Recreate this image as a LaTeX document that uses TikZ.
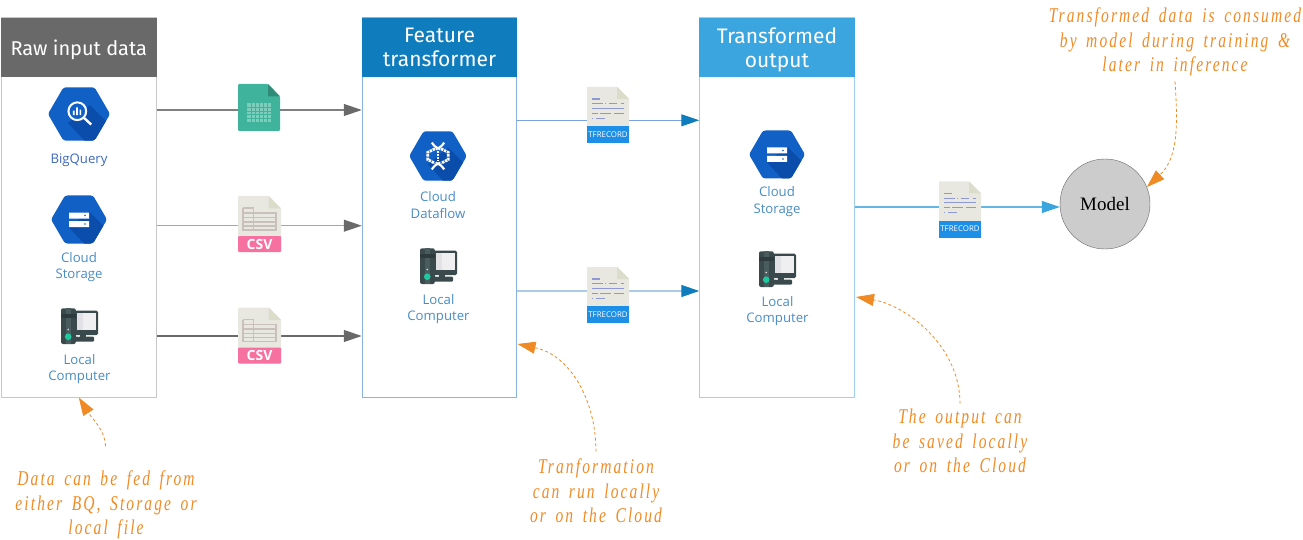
\documentclass[tikz,border=0pt]{standalone}
\usepackage{fontspec}
\setmainfont{Open Sans}
\newfontfamily\headfont{Fira Sans}
\newfontfamily\modelfont{Liberation Serif}
\newfontfamily\handfont[FakeStretch=.74,LetterSpace=10,WordSpace=1.6]{Liberation Serif}
\usetikzlibrary{arrows.meta}
\definecolor{rawgrey}{HTML}{696969}
\definecolor{rawline}{HTML}{C8C8C8}
\definecolor{featblue}{HTML}{0F7CBD}
\definecolor{featline}{HTML}{8AB4E0}
\definecolor{outblue}{HTML}{3BA5DF}
\definecolor{outline}{HTML}{A0D0F0}
\definecolor{hexblue}{HTML}{1160C6}
\definecolor{hexshade}{HTML}{0B4DAB}
\definecolor{notecol}{HTML}{F08A24}
\definecolor{paper}{HTML}{E9E8E0}
\definecolor{paperfold}{HTML}{DCDCCB}
\definecolor{towercol}{HTML}{3A4A4C}
\definecolor{towerband}{HTML}{4B5C5E}
\definecolor{screencol}{HTML}{E2E1E6}
\definecolor{ledcol}{HTML}{1FC9A0}
\definecolor{sheetcol}{HTML}{3FB39C}
\definecolor{sheetfold}{HTML}{2F8C78}
\definecolor{sheetgrid}{HTML}{7CCDBB}
\definecolor{csvpink}{HTML}{F670A0}
\definecolor{tablecol}{HTML}{C9C0BB}
\definecolor{tfband}{HTML}{1E8FE6}
\definecolor{tftext}{HTML}{8F98D6}
\definecolor{svcblue}{HTML}{4A8DC4}
\definecolor{bqblue}{HTML}{4169BE}
\tikzset{
  panel/.style={draw=#1, line width=1pt, fill=white, minimum width=154.5pt, minimum height=379pt, inner sep=0pt},
  header/.style={fill=#1, text=white, minimum width=155.5pt, minimum height=59pt, inner sep=0pt, text depth=0pt,
    font=\headfont\fontsize{20}{24}\selectfont, align=center},
  bighead/.style={header=#1, text depth=-2pt, font=\headfont\fontsize{21}{24}\selectfont},
  svclabel/.style={text=#1, align=center, inner sep=0pt, font=\fontsize{13.2}{16.5}\selectfont},
  note/.style={text=notecol, align=center, inner sep=0pt, font=\handfont\itshape\fontsize{21}{24.7}\selectfont},
  flow/.style={-{Triangle[length=18pt,width=12pt,color=#1]}},
  noteline/.style={draw=notecol, line width=.8pt, dash pattern=on 3pt off 2.5pt,
    -{Triangle[length=18pt,width=12pt,color=notecol,sep=0pt]}},
  hexicon/.pic={
    \def\hexpath{(-28,0) -- (-14,-24) -- (14,-24) -- (28,0) -- (14,24) -- (-14,24) -- cycle}
    \fill[hexblue, rounded corners=2.5pt] \hexpath;
    \begin{scope}
      \clip[rounded corners=2.5pt] \hexpath;
      \fill[hexshade] (-10,8) -- (10,-8) -- (40,22) -- (20,40) -- cycle;
    \end{scope}
  },
  bqicon/.pic={
    \pic {hexicon};
    \draw[white, line width=2pt, fill=hexblue] (-1.5,-2.5) circle (8pt);
    \draw[white, line width=2.4pt] (4.5,3.5) -- (11,9.5);
    \fill[white] (-5.5,-3) rectangle (-4,1) (-2.5,-6) rectangle (-1,1) (.5,-4) rectangle (2,1);
  },
  storeicon/.pic={
    \pic {hexicon};
    \fill[white] (-10,-7) rectangle (10,-1) (-10,1.5) rectangle (10,7.5);
    \fill[hexblue] (6,-4) circle (.8pt) (6,4.5) circle (.8pt);
  },
  flowicon/.pic={
    \pic {hexicon};
    \draw[white, line width=2.2pt] (-6,-13) .. controls (-3,-9) .. (2,-6.5) (6,-13) .. controls (3,-9) .. (-2,-6.5)
      (-6,13) .. controls (-3,9) .. (2,6.5) (6,13) .. controls (3,9) .. (-2,6.5);
    \draw[white, line width=2.8pt, dash pattern=on 2.4pt off .9pt] (-3,-7) -- (-10,-3.5) -- (-10,3.5) -- (-3,7)
      (3,-7) -- (10,-3.5) -- (10,3.5) -- (3,7);
    \draw[white, line width=2.6pt, dash pattern=on 2pt off 1.2pt] (0,-5) -- (0,5);
  },
  pcicon/.pic={
    \fill[towercol, rounded corners=1.5pt] (-5,-15.3) rectangle (18.5,9);
    \fill[towercol] (0,8) rectangle (6,12);
    \fill[towercol, rounded corners=1pt] (-5,10.7) rectangle (14.5,15.7);
    \fill[screencol] (-3,-12.7) rectangle (16.5,4);
    \fill[white!45!screencol] (3,-12.7) rectangle (16.5,4);
    \fill[towercol, rounded corners=2pt] (-18.5,-17.7) rectangle (-3.7,18);
    \fill[towerband] (-14,-17.7) rectangle (-8.5,18);
    \fill[towercol!80!black] (-18.5,-12) rectangle (-3.7,-8.5);
    \fill[screencol] (-11.3,3.5) circle (.9pt) (-1,10) circle (1.2pt);
    \fill[ledcol] (-11.3,10.7) circle (3.3pt);
  },
  sheetfile/.pic={
    \fill[rounded corners=1.2pt, sheetcol]
      (-21,-23.5) -- (9,-23.5) -- (21,-11) -- (21,23.5) -- (-21,23.5) -- cycle;
    \fill[sheetfold] (9,-23.5) -- (21,-11) -- (9,-11) -- cycle;
    \fill[sheetgrid] (-12,-4.5) rectangle (12,14.5);
    \foreach \gx in {-8,-4,0,4,8} \draw[sheetcol, line width=.7pt] (\gx,-4.5) -- (\gx,14.5);
    \foreach \gy in {-.5,3.5,7,11} \draw[sheetcol, line width=.7pt] (-12,\gy) -- (12,\gy);
  },
  csvfile/.pic={
    \fill[paper, rounded corners=1pt] (-21.5,-28) -- (9,-28) -- (21.5,-15.5) -- (21.5,28) -- (-21.5,28) -- cycle;
    \fill[paperfold] (9,-28) -- (21.5,-15.5) -- (9,-15.5) -- cycle;
    \fill[csvpink, rounded corners=1pt] (-21.5,12) rectangle (21.5,28);
    \draw[tablecol, line width=1.1pt] (-16.5,-16) -- (-6,-16) -- (-6,6)
      (-16.5,-16) -- (-16.5,6) -- (16.5,6) -- (16.5,-11) -- (-16.5,-11);
    \foreach \ry in {-6.5,-2,2} \draw[tablecol, line width=1.1pt] (-16.5,\ry) -- (16.5,\ry);
    \node (tag) [text=white, inner sep=0pt, font=\bfseries\fontsize{14}{16}\selectfont] at (0,20) {CSV};
  },
  tffile/.pic={
    \fill[paper] (-21,-28) -- (9,-28) -- (21,-16) -- (21,28) -- (-21,28) -- cycle;
    \fill[paperfold] (9,-28) -- (21,-16) -- (9,-16) -- cycle;
    \fill[tfband] (-21,11) rectangle (21,28);
    \draw[tftext, line width=1.1pt] (-16,-16) -- (-8,-16)
      (-16,-11.3) -- (-5,-11.3) (-3,-11.3) -- (-2,-11.3) (.5,-11.3) -- (9,-11.3) (12.5,-11.3) -- (16,-11.3)
      (-16,-6.7) -- (16,-6.7)
      (-16,-1.7) -- (-10,-1.7) (-8,-1.7) -- (3,-1.7) (6,-1.7) -- (16,-1.7)
      (-16,3.3) -- (-15,3.3) (-12,3.3) -- (-3,3.3);
    \node (tag) [text=white, inner sep=0pt, font=\fontsize{7.9}{10}\selectfont] at (0,19.5) {TFRECORD};
  }
}
\begin{document}
\begin{tikzpicture}[x=1pt, y=-1pt]
  \useasboundingbox (0,0) rectangle (1303,540);
  % the three panels
  \node (rawbody) [panel=rawline] at (78.8,207.5) {};
  \node (featbody) [panel=featline] at (439.5,207.5) {};
  \node (outbody) [panel=outline] at (777,207.5) {};
  \node (rawhead) [header=rawgrey] at (78.8,47.5) {Raw input data};
  \node (feathead) [bighead=featblue] at (439.5,47.5) {Feature\\transformer};
  \node (outhead) [bighead=outblue] at (777,47.5) {Transformed\\output};
  \node (model) [circle, draw=black!60, fill=black!20, minimum size=90pt, inner sep=0pt,
    font=\modelfont\fontsize{19}{22}\selectfont] at (1105,204) {Model};
  % where the arrows pass
  \coordinate (sheet) at (259,110);
  \coordinate (csva) at (259.5,225.7);
  \coordinate (csvb) at (259.5,336);
  \coordinate (tfa) at (608,120.3);
  \coordinate (tfb) at (608,291);
  \coordinate (tfc) at (960,207);
  \draw[flow=rawgrey, draw=black!50, line width=1.3pt] (rawbody.east |- sheet) -- (featbody.west |- sheet);
  \draw[flow=rawgrey, draw=black!35, line width=1pt] (rawbody.east |- csva) -- (featbody.west |- csva);
  \draw[flow=rawgrey, draw=rawgrey, line width=1.3pt] (rawbody.east |- csvb) -- (featbody.west |- csvb);
  \draw[flow=featblue, draw=featline!90!blue, line width=1pt] (featbody.east |- tfa) -- (outbody.west |- tfa);
  \draw[flow=featblue, draw=featline!70!white, line width=1.3pt] (featbody.east |- tfb) -- (outbody.west |- tfb);
  \draw[flow=outblue, draw=outblue!80!white, line width=1.2pt] (outbody.east |- tfc) -- (model.west |- tfc);
  % files on the arrows
  \pic (sheetf) at (259,107.5) {sheetfile};
  \pic (csvaf) at (259.5,224) {csvfile};
  \pic (csvbf) at (259.5,335.5) {csvfile};
  \pic (tfaf) at (608,115) {tffile};
  \pic (tfbf) at (608,295) {tffile};
  \pic (tfcf) at (960,209.5) {tffile};
  % raw input column
  \pic[scale=1.11, transform shape] (rawbq) at (79,114) {bqicon};
  \node (rawbql) [svclabel=bqblue] at (79,160.5) {BigQuery};
  \pic (rawgcs) at (79,219.5) {storeicon};
  \node (rawgcsl) [svclabel=svcblue] at (79,267) {Cloud\\Storage};
  \pic (rawpc) at (79.5,326) {pcicon};
  \node (rawpcl) [svclabel=svcblue] at (79.5,369) {Local\\Computer};
  % feature column
  \pic[scale=1.03, transform shape] (featdf) at (438,156) {flowicon};
  \node (featdfl) [svclabel=svcblue] at (438,205) {Cloud\\Dataflow};
  \pic (featpc) at (438.5,266) {pcicon};
  \node (featpcl) [svclabel=svcblue] at (438.5,309) {Local\\Computer};
  % output column
  \pic (outgcs) at (777,154.5) {storeicon};
  \node (outgcsl) [svclabel=svcblue] at (777,201.5) {Cloud\\Storage};
  \pic (outpc) at (777.5,269) {pcicon};
  \node (outpcl) [svclabel=svcblue] at (777.5,311) {Local\\Computer};
  % handwritten remarks
  \node (noteraw) [note] at (106,505) {Data can be fed from\\either BQ, Storage or\\local file};
  \node (notefeat) [note] at (596,491) {Tranformation\\can run locally\\or on the Cloud};
  \node (noteout) [note] at (960,441) {The output can\\be saved locally\\or on the Cloud};
  \node (notemodel) [note] at (1175,42) {Transformed data is consumed\\by model during training \&\\later in inference};
  \coordinate (rawstart) at (105.5,446);
  \coordinate (feattip) at (517.5,344);
  \coordinate (outtip) at (856,297);
  \draw[noteline] (rawstart) .. controls (105,430) and (93,420) .. (rawbody.south);
  \draw[noteline] (notefeat.north) ++(0,-7) .. controls (596,400) and (570,355) .. (feattip);
  \draw[noteline] (noteout.north) ++(0,-5) .. controls (960,345) and (905,305) .. (outtip);
  \draw[noteline] (notemodel.south) ++(0,5) .. controls (1178,125) and (1178,158) .. (model.22);
\end{tikzpicture}
\end{document}
